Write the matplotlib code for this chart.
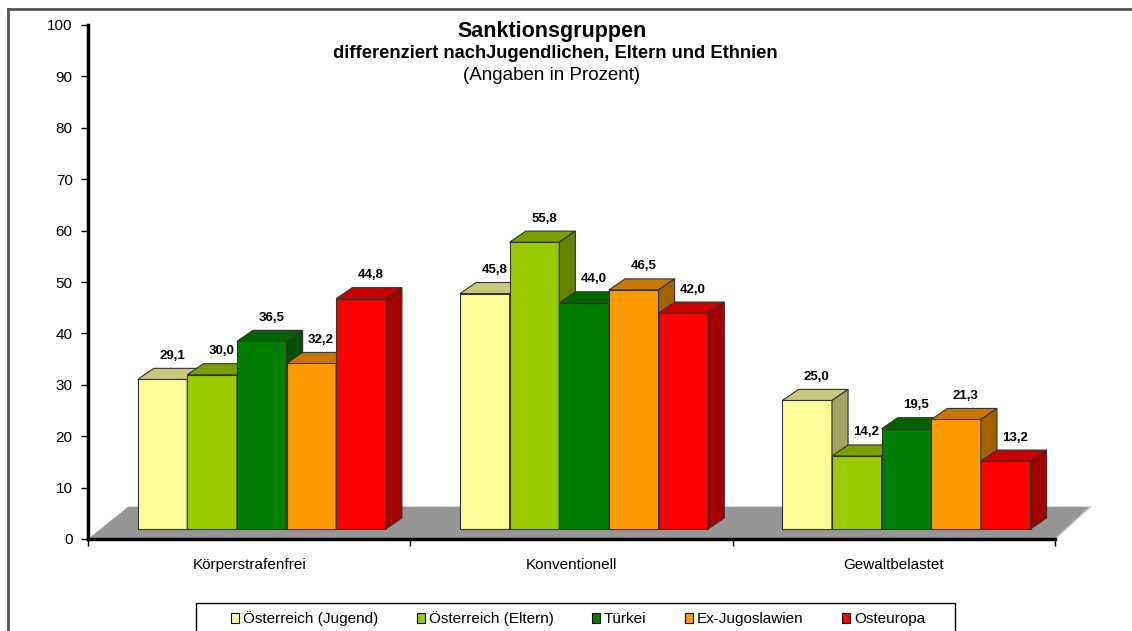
import matplotlib.pyplot as plt
from matplotlib.patches import Polygon, Rectangle
from matplotlib.lines import Line2D
import numpy as np

plt.rcParams['font.family'] = ['Liberation Sans', 'DejaVu Sans']

# data
categories = ['Körperstrafenfrei', 'Konventionell', 'Gewaltbelastet']
series_names = ['Österreich (Jugend)', 'Österreich (Eltern)', 'Türkei', 'Ex-Jugoslawien', 'Osteuropa']
jugend = [29.1, 45.8, 25.0]
eltern = [30.0, 55.8, 14.2]
tuerkei = [36.5, 44.0, 19.5]
exjugo = [32.2, 46.5, 21.3]
osteuropa = [44.8, 42.0, 13.2]
all_series = [jugend, eltern, tuerkei, exjugo, osteuropa]

# front / top / side colours
front_cols = ['#FFFF99', '#99CC00', '#008000', '#FF9900', '#FF0000']
top_cols = ['#C8C87A', '#7AA000', '#006400', '#C87800', '#C80000']
side_cols = ['#A3A364', '#648200', '#005000', '#A36200', '#A30000']

# 3d look
base = 1.95          # bars sit a bit behind the floor front edge
ddx = 0.05           # depth shift in x (category units)
ddy = 2.15           # depth shift in y (percent units)
w = 0.154
start = 0.154

fig = plt.figure(figsize=(11.32, 6.31), dpi=100)
ax = fig.add_axes([88/1132, 92/631, 967/1132, 514/631])

# floor
floor = Polygon([(0, 0), (3, 0), (3 + 0.11, 6.3), (0 + 0.125, 6.3)],
                closed=True, facecolor='#969696', edgecolor='none', zorder=1, clip_on=False)
ax.add_patch(floor)
ax.plot([3, 3.11], [0, 6.3], color='#c8c8c8', lw=1, zorder=1.1, clip_on=False)

for i, vals in enumerate(all_series):
    z = 2 + i * 0.1
    xs = np.arange(3) + start + i * w
    ax.bar(xs, vals, width=w, bottom=base, align='edge', color=front_cols[i],
           edgecolor='#333333', linewidth=0.8, zorder=z)
    for x0, v in zip(xs, vals):
        top = base + v
        ax.add_patch(Polygon([(x0, top), (x0 + w, top), (x0 + w + ddx, top + ddy), (x0 + ddx, top + ddy)],
                             closed=True, facecolor=top_cols[i], edgecolor='#333333', lw=0.8, zorder=z))
        ax.add_patch(Polygon([(x0 + w, base), (x0 + w, top), (x0 + w + ddx, top + ddy), (x0 + w + ddx, base + ddy)],
                             closed=True, facecolor=side_cols[i], edgecolor='#333333', lw=0.8, zorder=z))
        ax.annotate(f'{v:.1f}'.replace('.', ','), (x0 + w / 2 + 0.03, top + ddy),
                    xytext=(0, 9), textcoords='offset points', ha='center', va='center',
                    fontsize=9.5, fontweight='bold', zorder=10)

ax.set_xlim(0, 3)
ax.set_ylim(0, 100)
ax.set_yticks(range(0, 101, 10))
ax.set_xticks([0, 1, 2, 3])
ax.set_xticklabels([])
ax.set_xticks([0.5, 1.5, 2.5], minor=True)
ax.set_xticklabels(categories, minor=True, fontsize=11)
ax.tick_params(axis='x', which='minor', length=0, pad=14)
ax.tick_params(axis='x', which='major', length=5, width=1, direction='out')
ax.tick_params(axis='y', length=5, width=1, labelsize=11, pad=6)

for s in ['top', 'right']:
    ax.spines[s].set_visible(False)
ax.spines['left'].set_linewidth(2.5)
ax.spines['bottom'].set_linewidth(2.5)
ax.spines['left'].set_zorder(20)
ax.spines['bottom'].set_zorder(20)
ax.patch.set_visible(False)

# titles
fig.text(552/1132, 1 - 31/631, 'Sanktionsgruppen', ha='center', va='center', fontsize=15.5, fontweight='bold')
fig.text(555/1132, 1 - 54/631, 'differenziert nachJugendlichen, Eltern und Ethnien', ha='center', va='center',
         fontsize=13.2, fontweight='bold')
fig.text(552/1132, 1 - 75/631, '(Angaben in Prozent)', ha='center', va='center', fontsize=13.5)

# legend
handles = [Rectangle((0, 0), 1, 1, facecolor=c, edgecolor='black', lw=0.8) for c in front_cols]
leg = fig.legend(handles, series_names, loc='center', ncol=5,
                 bbox_to_anchor=(578/1132, 1 - 619/631),
                 fontsize=11, frameon=False,
                 handlelength=0.55, handleheight=0.55, handletextpad=0.25,
                 columnspacing=2.5)
fig.add_artist(Rectangle((196/1132, -0.02), 759/1132, 28/631 + 0.02, transform=fig.transFigure,
                         fill=False, edgecolor='black', lw=1))

# outer frame (left and top only visible)
fig.add_artist(Line2D([8/1132, 8/1132], [0, 1 - 9/631], color='#555555', lw=2))
fig.add_artist(Line2D([8/1132, 1], [1 - 9/631, 1 - 9/631], color='#555555', lw=2))

fig.savefig('out.png', dpi=100)
